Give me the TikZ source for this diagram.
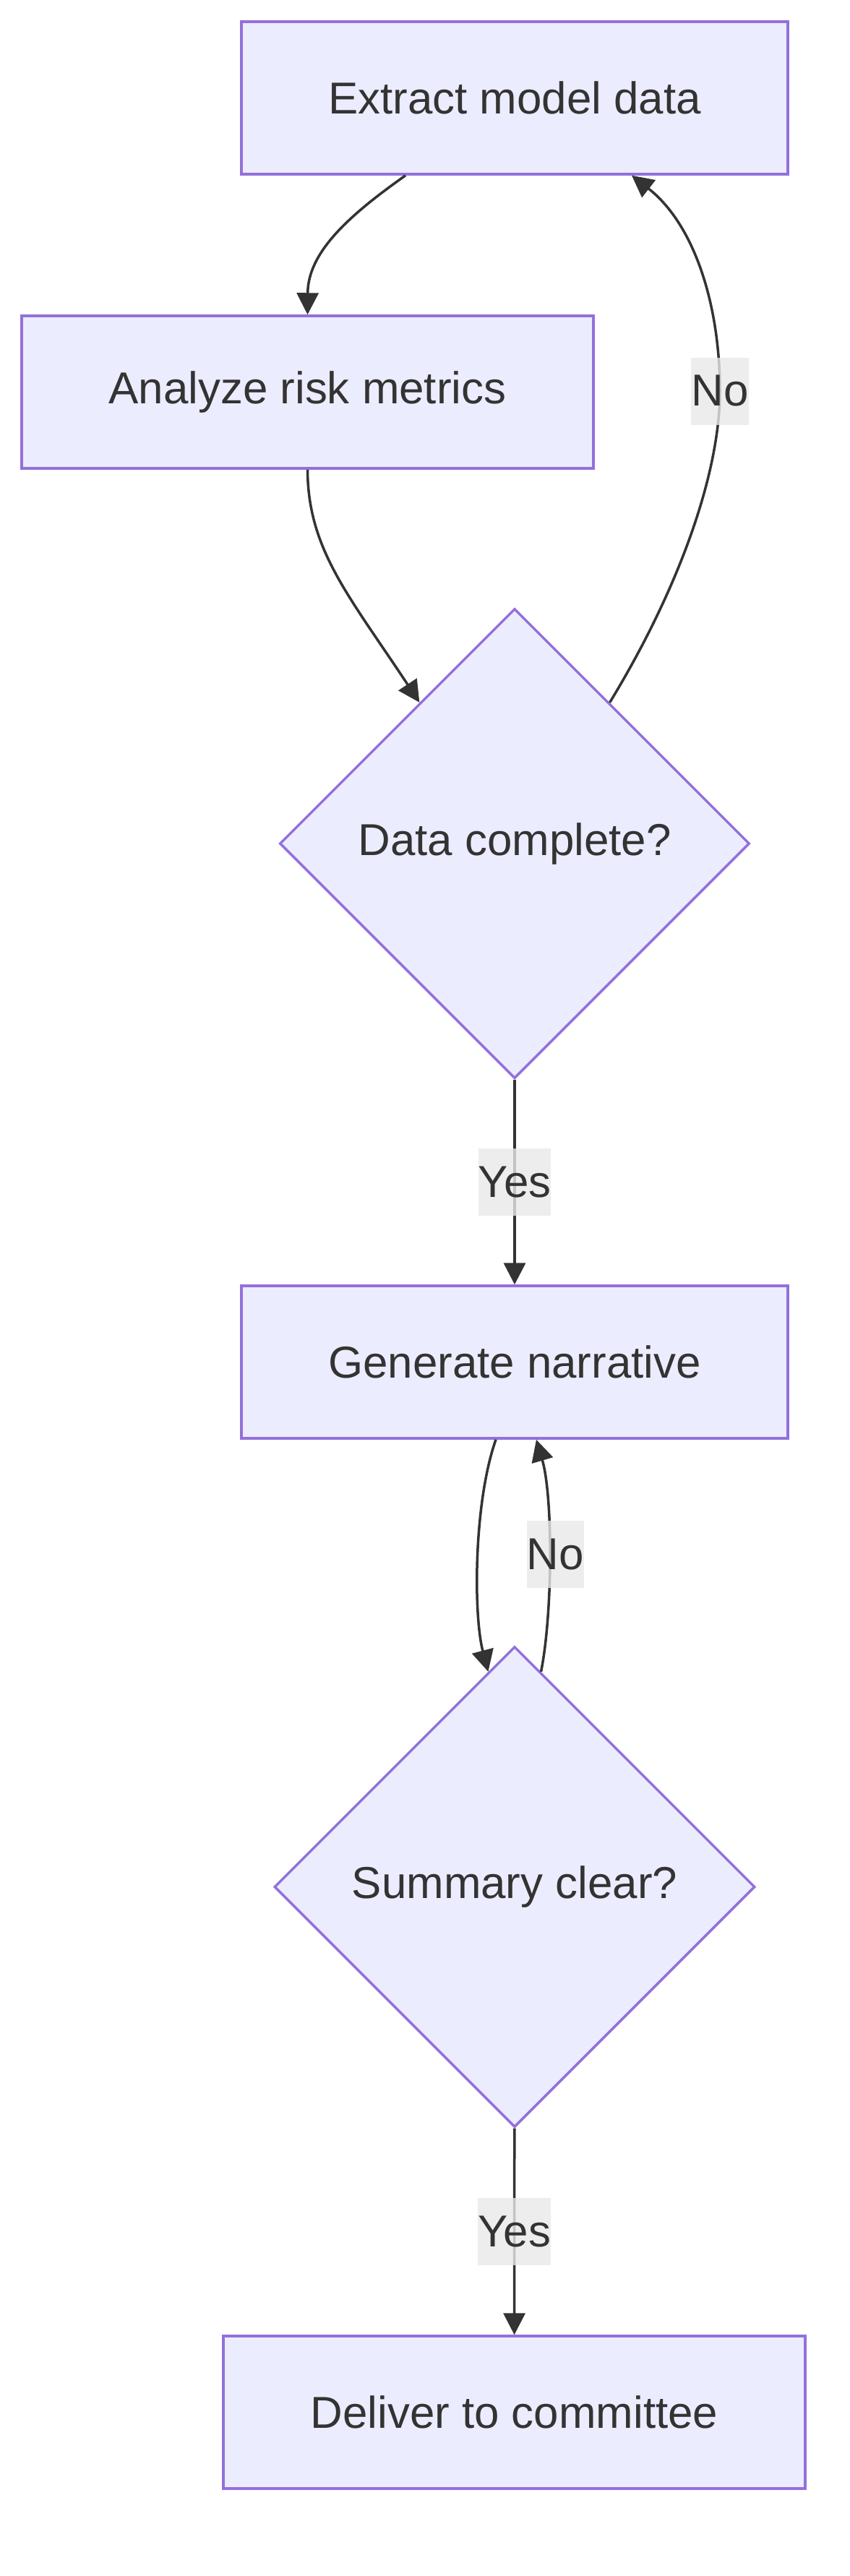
\documentclass[tikz,border=0pt]{standalone}
\usepackage{fontspec}
\setmainfont{Liberation Sans}
\usepackage{xcolor}
\usetikzlibrary{positioning,arrows.meta,shapes.geometric}

\definecolor{boxfill}{HTML}{ECECFF}
\definecolor{boxline}{HTML}{9370DB}
\definecolor{inkgray}{HTML}{333333}
\definecolor{lblfill}{HTML}{E8E8E8}

\tikzset{
  txt/.style={text=inkgray, font=\fontsize{17.6}{21}\selectfont},
  procbox/.style={txt, draw=boxline, fill=boxfill, line width=0.035cm,
    minimum height=2.11cm, inner sep=0pt},
  decision/.style={txt, diamond, aspect=1, draw=boxline, fill=boxfill,
    line width=0.035cm, inner sep=0pt},
  flow/.style={draw=inkgray, line width=0.035cm,
    -{Triangle[length=0.3cm,width=0.3cm]}},
  lbl/.style={txt, fill=lblfill, fill opacity=0.8, text opacity=1,
    inner xsep=0pt, inner ysep=0pt, minimum height=0.93cm}
}

\begin{document}
\begin{tikzpicture}
  % canvas: 1176 x 3564 px -> 11.76 x 35.64 cm, y grows downwards
  \useasboundingbox (0,0) rectangle (11.76,-35.64);
  % nodes
  \node[procbox, minimum width=7.56cm] (extract) at (7.12,-1.355) {Extract model data};
  \node[procbox, minimum width=7.91cm] (analyze) at (4.255,-5.425) {Analyze risk metrics};
  \node[decision, minimum size=6.5cm] (check1) at (7.12,-11.67) {Data complete?};
  \node[procbox, minimum width=7.56cm] (generate) at (7.12,-18.845) {Generate narrative};
  \node[decision, minimum size=6.65cm] (check2) at (7.12,-26.105) {Summary clear?};
  \node[procbox, minimum width=8.05cm] (deliver) at (7.115,-33.375) {Deliver to committee};
  % edges
  \draw[flow] ([xshift=-1.51cm]extract.south) .. controls (4.8,-3.0) and (4.26,-3.5) .. (analyze.north);
  \draw[flow] (analyze.south) .. controls (4.26,-7.6) and (4.82,-8.23) .. (check1.124);
  \draw[flow] (check1.56) .. controls (9.35,-8.22) and (9.96,-6.6) .. (9.96,-5.41)
    node[lbl] (no1) {No}
    .. controls (9.96,-4.2) and (9.6,-3.1) .. ([xshift=1.62cm]extract.south);
  \draw[flow] (check1) -- node[lbl] (yes1) {Yes} (generate);
  \draw[flow] ([xshift=-0.26cm]generate.south) .. controls (6.55,-20.8) and (6.55,-22.35) .. (check2.97);
  \draw[flow] (check2.83) .. controls (7.65,-22.3) and (7.65,-20.7) ..
    node[lbl, xshift=0.08cm] (no2) {No} ([xshift=0.30cm]generate.south);
  \draw[flow] (check2) -- node[lbl] (yes2) {Yes} (deliver);
\end{tikzpicture}
\end{document}
